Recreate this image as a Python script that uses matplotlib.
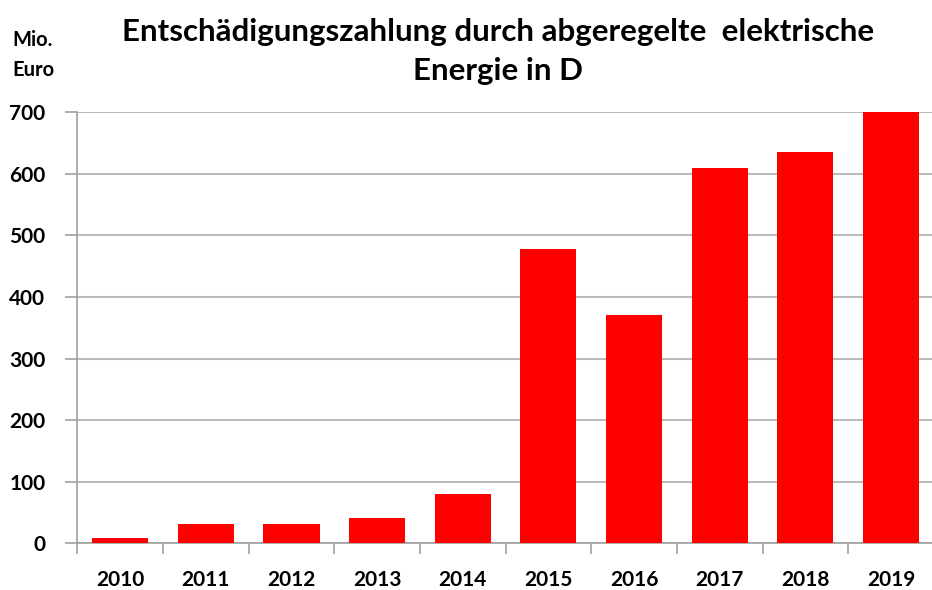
import matplotlib
matplotlib.use("Agg")
import matplotlib.pyplot as plt
import numpy as np

years = ["2010", "2011", "2012", "2013", "2014", "2015", "2016", "2017", "2018", "2019"]
values = [8, 32, 32, 42, 81, 478, 371, 609, 635, 700]
yticks = [0, 100, 200, 300, 400, 500, 600, 700]

plt.rcParams['font.family'] = ['Lato', 'DejaVu Sans']

fig = plt.figure(figsize=(9.32, 5.90), dpi=100)
ax = fig.add_axes([0.083, 0.079, 0.919, 0.7307])

x = np.arange(len(years))
ax.bar(x, values, width=0.655, color='#FF0000', zorder=3)

ax.set_xlim(-0.5, len(years) - 0.5)
ax.set_ylim(0, 700)
ax.set_yticks(yticks)
ax.set_yticklabels([str(v) for v in yticks], fontsize=15, fontweight='bold')
ax.set_xticks(x)
ax.set_xticklabels(years, fontsize=15, fontweight='bold')
ax.set_xticks(np.arange(-0.5, len(years), 1.0), minor=True)
ax.tick_params(axis='x', which='major', length=0, pad=19)
ax.tick_params(axis='x', which='minor', length=8, color='#A0A0A0', width=1.2)
ax.tick_params(axis='y', length=9, color='#A0A0A0', width=1.2, pad=14)

ax.grid(axis='y', color='#BBBBBB', linewidth=1.5, zorder=0)
for s in ['top', 'right']:
    ax.spines[s].set_visible(False)
ax.spines['left'].set_color('#A0A0A0')
ax.spines['left'].set_linewidth(1.2)
ax.spines['bottom'].set_color('#A0A0A0')
ax.spines['bottom'].set_linewidth(1.2)

fig.text(0.534, 0.913, "Entschädigungszahlung durch abgeregelte  elektrische\nEnergie in D",
         ha='center', va='center', fontsize=22.5, fontweight='bold', linespacing=1.45)
fig.text(0.013, 0.932, "Mio.", ha='left', va='center', fontsize=14.5, fontweight='bold')
fig.text(0.013, 0.881, "Euro", ha='left', va='center', fontsize=14.5, fontweight='bold')

fig.savefig("out.png", dpi=100)
